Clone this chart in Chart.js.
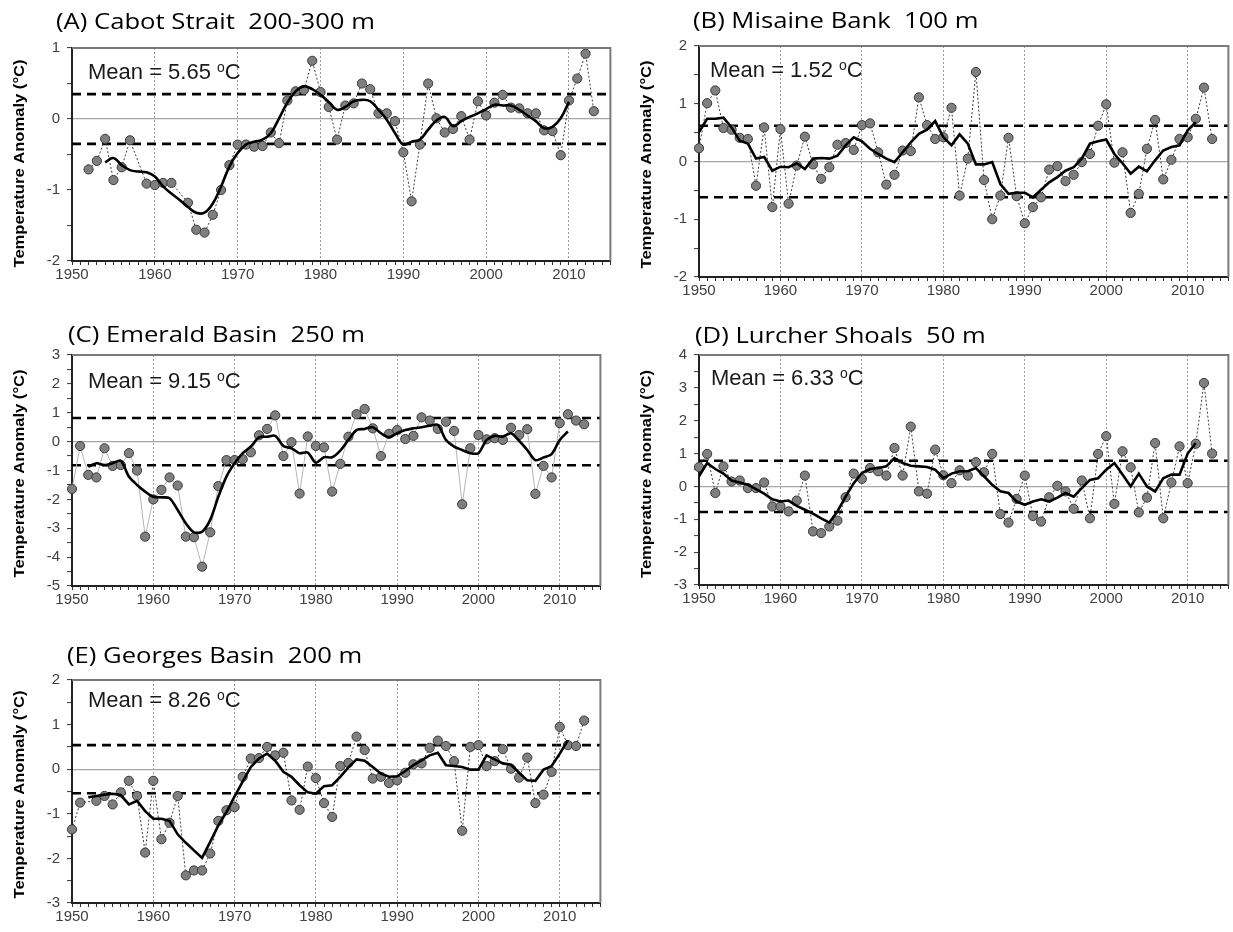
<!DOCTYPE html>
<html>
<head>
<meta charset="utf-8">
<script src="https://cdn.jsdelivr.net/npm/chart.js@4.4.0/dist/chart.umd.min.js"></script>
<style>
  html, body { margin: 0; padding: 0; background: #fff; }
  body { width: 1233px; height: 932px; overflow: hidden; position: relative; }
  canvas { position: absolute; }
</style>
</head>
<body>
<canvas id="chartA"></canvas>
<canvas id="chartB"></canvas>
<canvas id="chartC"></canvas>
<canvas id="chartD"></canvas>
<canvas id="chartE"></canvas>
<script>
// Years on the x axis
const years = [
    1950, 1951, 1952, 1953, 1954, 1955, 1956, 1957, 1958, 1959,
    1960, 1961, 1962, 1963, 1964, 1965, 1966, 1967, 1968, 1969,
    1970, 1971, 1972, 1973, 1974, 1975, 1976, 1977, 1978, 1979,
    1980, 1981, 1982, 1983, 1984, 1985, 1986, 1987, 1988, 1989,
    1990, 1991, 1992, 1993, 1994, 1995, 1996, 1997, 1998, 1999,
    2000, 2001, 2002, 2003, 2004, 2005, 2006, 2007, 2008, 2009,
    2010, 2011, 2012, 2013
];
const xMin = 1950;
const xMax = 2015;

// (A) Cabot Strait 200-300 m
const cabotAnnual = [
    null, null, -0.71, -0.59, -0.28, -0.86, -0.68, -0.30, null, -0.91,
    -0.93, -0.90, -0.90, null, -1.18, -1.56, -1.60, -1.35, -1.00, -0.65,
    -0.36, -0.36, -0.39, -0.38, -0.19, -0.34, 0.26, 0.39, 0.41, 0.82,
    0.38, 0.17, -0.29, 0.19, 0.22, 0.50, 0.42, 0.08, 0.08, -0.03,
    -0.47, -1.16, -0.36, 0.50, 0.01, -0.19, -0.14, 0.04, -0.29, 0.25,
    0.05, 0.23, 0.34, 0.16, 0.15, 0.08, 0.08, -0.16, -0.17, -0.51,
    0.26, 0.57, 0.92, 0.11
];
const cabotMean = [
    null, null, null, null, -0.61, -0.55, -0.65, -0.72, -0.74, -0.75,
    -0.81, -0.95, -1.05, -1.14, -1.24, -1.32, -1.32, -1.19, -0.95, -0.67,
    -0.48, -0.36, -0.32, -0.29, -0.20, 0.01, 0.23, 0.39, 0.46, 0.42,
    0.34, 0.24, 0.13, 0.17, 0.25, 0.27, 0.25, 0.13, -0.01, -0.20,
    -0.36, -0.32, -0.29, -0.15, -0.02, 0.03, -0.10, -0.03, 0.03, 0.08,
    0.14, 0.20, 0.19, 0.19, 0.13, 0.05, -0.03, -0.13, -0.11, 0.01,
    0.24, null, null, null
];

// (B) Misaine Bank 100 m
const misaineAnnual = [
    0.23, 1.01, 1.23, 0.58, 0.55, 0.41, 0.39, -0.42, 0.59, -0.79,
    0.56, -0.73, -0.07, 0.43, -0.05, -0.30, -0.10, 0.29, 0.32, 0.20,
    0.63, 0.66, 0.16, -0.40, -0.23, 0.19, 0.18, 1.11, 0.63, 0.39,
    0.42, 0.93, -0.59, 0.05, 1.55, -0.32, -1.00, -0.59, 0.41, -0.60,
    -1.07, -0.79, -0.62, -0.14, -0.08, -0.34, -0.23, -0.01, 0.13, 0.62,
    0.99, -0.02, 0.16, -0.89, -0.56, 0.22, 0.72, -0.31, 0.03, 0.39,
    0.42, 0.74, 1.28, 0.39
];
const misaineMean = [
    0.51, 0.74, 0.74, 0.76, 0.59, 0.36, 0.31, 0.05, 0.08, -0.16,
    -0.09, -0.10, -0.03, -0.13, 0.05, 0.06, 0.05, 0.10, 0.28, 0.42,
    0.35, 0.22, 0.13, 0.05, -0.01, 0.16, 0.33, 0.48, 0.55, 0.70,
    0.42, 0.28, 0.47, 0.31, -0.05, -0.05, -0.01, -0.39, -0.56, -0.54,
    -0.54, -0.62, -0.49, -0.36, -0.27, -0.16, -0.10, 0.05, 0.31, 0.35,
    0.38, 0.13, -0.03, -0.21, -0.09, -0.17, 0.02, 0.19, 0.25, 0.28,
    0.54, 0.68, null, null
];

// (C) Emerald Basin 250 m
const emeraldAnnual = [
    -1.64, -0.15, -1.15, -1.24, -0.23, -0.84, -0.81, -0.40, -1.00, -3.29,
    -2.00, -1.67, -1.24, -1.52, -3.29, -3.31, -4.33, -3.14, -1.54, -0.64,
    -0.64, -0.61, -0.37, 0.22, 0.44, 0.91, -0.50, -0.02, -1.80, 0.18,
    -0.15, -0.20, -1.73, -0.77, 0.17, 0.95, 1.13, 0.46, -0.50, 0.27,
    0.40, 0.09, 0.20, 0.84, 0.73, 0.44, 0.69, 0.37, -2.17, -0.23,
    0.23, 0.08, 0.12, 0.06, 0.48, 0.23, 0.43, -1.81, -0.84, -1.24,
    0.64, 0.95, 0.73, 0.60
];
const emeraldMean = [
    null, null, -0.87, -0.75, -0.81, -0.75, -0.66, -1.21, -1.50, -1.73,
    -1.91, -1.93, -1.96, -2.37, -2.83, -3.14, -3.12, -2.71, -1.91, -1.21,
    -0.75, -0.40, -0.17, 0.15, 0.17, 0.20, -0.15, -0.23, -0.40, -0.38,
    -0.73, -0.54, -0.54, -0.31, 0.06, 0.40, 0.44, 0.50, 0.29, 0.15,
    0.29, 0.40, 0.46, 0.50, 0.55, 0.58, 0.06, -0.17, -0.29, -0.40,
    -0.40, 0.06, 0.20, 0.17, 0.29, 0.03, -0.29, -0.64, -0.55, -0.43,
    0.06, 0.35, null, null
];

// (D) Lurcher Shoals 50 m
const lurcherAnnual = [
    0.59, 0.99, -0.20, 0.61, 0.15, 0.18, -0.05, -0.05, 0.12, -0.61,
    -0.61, -0.76, -0.43, 0.33, -1.37, -1.42, -1.22, -1.04, -0.33, 0.39,
    0.23, 0.56, 0.46, 0.33, 1.17, 0.33, 1.82, -0.15, -0.22, 1.12,
    0.34, 0.10, 0.49, 0.33, 0.74, 0.43, 0.99, -0.84, -1.10, -0.38,
    0.33, -0.90, -1.07, -0.33, 0.02, -0.15, -0.68, 0.18, -0.97, 0.99,
    1.53, -0.53, 1.07, 0.58, -0.79, -0.34, 1.32, -0.97, 0.12, 1.22,
    0.10, 1.30, 3.15, 1.00
];
const lurcherMean = [
    0.31, 0.71, 0.53, 0.39, 0.18, 0.12, 0.05, -0.08, -0.22, -0.39,
    -0.46, -0.43, -0.59, -0.71, -0.83, -0.97, -1.10, -0.76, -0.31, 0.10,
    0.41, 0.53, 0.56, 0.61, 0.86, 0.71, 0.63, 0.61, 0.59, 0.51,
    0.25, 0.39, 0.46, 0.46, 0.56, 0.31, 0.05, -0.15, -0.20, -0.46,
    -0.56, -0.46, -0.39, -0.46, -0.34, -0.20, -0.31, -0.05, 0.20, 0.25,
    0.51, 0.71, 0.36, 0.00, 0.39, 0.00, -0.15, 0.25, 0.36, 0.36,
    1.00, 1.32, null, null
];

// (E) Georges Basin 200 m
const georgesAnnual = [
    -1.35, -0.75, null, -0.71, -0.60, -0.79, -0.52, -0.26, -0.60, -1.87,
    -0.26, -1.57, -1.20, -0.60, -2.38, -2.27, -2.27, -1.89, -1.16, -0.92,
    -0.85, -0.17, 0.24, 0.25, 0.50, 0.31, 0.37, -0.70, -0.91, 0.06,
    -0.20, -0.76, -1.07, 0.07, 0.14, 0.73, 0.43, -0.21, -0.17, -0.31,
    -0.25, -0.08, 0.11, 0.13, 0.48, 0.64, 0.52, 0.18, -1.38, 0.50,
    0.54, 0.07, 0.18, 0.45, 0.01, -0.19, 0.26, -0.76, -0.57, -0.06,
    0.95, 0.54, 0.52, 1.09
];
const georgesMean = [
    null, null, -0.63, -0.60, -0.57, -0.55, -0.58, -0.79, -0.71, -0.94,
    -1.11, -1.11, -1.16, -1.46, -1.65, -1.82, -1.99, -1.63, -1.26, -0.96,
    -0.61, -0.28, 0.05, 0.24, 0.35, 0.19, -0.06, -0.17, -0.36, -0.52,
    -0.55, -0.38, -0.36, -0.17, 0.04, 0.22, 0.19, 0.05, -0.10, -0.17,
    -0.16, -0.04, 0.09, 0.20, 0.31, 0.37, 0.09, 0.07, 0.05, -0.01,
    -0.01, 0.31, 0.22, 0.13, 0.10, -0.08, -0.25, -0.26, -0.01, 0.07,
    0.35, 0.65, null, null
];

const stationTitles = [
    '(A) Cabot Strait  200-300 m',
    '(B) Misaine Bank  100 m',
    '(C) Emerald Basin  250 m',
    '(D) Lurcher Shoals  50 m',
    '(E) Georges Basin  200 m'
];
const stationMeans = ['5.65', '1.52', '9.15', '6.33', '8.26'];
const stdDevs = [0.35, 0.62, 0.82, 0.78, 0.54];
const yMins = [-2, -2, -5, -3, -3];
const yMaxs = [1, 2, 3, 4, 2];
const yAxisTitle = 'Temperature Anomaly (°C)';
const annualSeries = [cabotAnnual, misaineAnnual, emeraldAnnual, lurcherAnnual, georgesAnnual];
const meanSeries = [cabotMean, misaineMean, emeraldMean, lurcherMean, georgesMean];

// Page placement of each plot area (pixels)
const panelLayout = [
    { id: 'chartA', left: 72,  top: 48,  right: 614,  bottom: 261, titleX: 56,  titleBase: 29,  meanX: 88,  meanBase: 79,  yTitleShift: 9, tension: 0.4, grayLine: false },
    { id: 'chartB', left: 699, top: 46,  right: 1232, bottom: 277, titleX: 693, titleBase: 28,  meanX: 710, meanBase: 77,  yTitleShift: 3, tension: 0,   grayLine: false },
    { id: 'chartC', left: 72,  top: 355, right: 604,  bottom: 586, titleX: 68,  titleBase: 342, meanX: 88,  meanBase: 388, yTitleShift: 3, tension: 0.3, grayLine: true },
    { id: 'chartD', left: 699, top: 355, right: 1232, bottom: 585, titleX: 695, titleBase: 343, meanX: 711, meanBase: 385, yTitleShift: 4, tension: 0,   grayLine: false },
    { id: 'chartE', left: 72,  top: 680, right: 604,  bottom: 903, titleX: 67,  titleBase: 663, meanX: 88,  meanBase: 707, yTitleShift: 3, tension: 0,   grayLine: false }
];

const AXIS_W = 72;
const AXIS_H = 32;
const TOP_PAD = 48;
const baseFont = '"Liberation Sans", Arial, sans-serif';

function toPoints(vals) {
    return years.map((yr, i) => ({ x: yr, y: vals[i] }));
}

// Frame, panel title, axis title and mean label
const panelDecor = {
    id: 'panelDecor',
    afterDraw(chart, args, opts) {
        const { ctx, chartArea: a } = chart;
        ctx.save();
        ctx.strokeStyle = '#7a7a7a';
        ctx.lineWidth = 2;
        ctx.beginPath();
        ctx.moveTo(a.left, a.top);
        ctx.lineTo(a.right, a.top);
        ctx.lineTo(a.right, a.bottom);
        ctx.stroke();

        // panel title, a little wider than Open Sans
        ctx.textAlign = 'left';
        ctx.textBaseline = 'alphabetic';
        ctx.fillStyle = '#000';
        ctx.font = '22.5px "Open Sans", sans-serif';
        ctx.save();
        ctx.translate(opts.titleX, opts.titleY);
        ctx.scale(1.14, 1);
        ctx.fillText(opts.title, 0, 0);
        ctx.restore();

        // y axis title
        ctx.save();
        ctx.font = 'bold 14px ' + baseFont;
        const tw = ctx.measureText(yAxisTitle).width;
        ctx.translate(a.left - 52, (a.top + a.bottom) / 2 + opts.yTitleShift);
        ctx.rotate(-Math.PI / 2);
        ctx.scale(208 / tw, 1);
        ctx.textAlign = 'center';
        ctx.textBaseline = 'middle';
        ctx.fillText(yAxisTitle, 0, 0);
        ctx.restore();

        // mean label with raised "o"
        ctx.fillStyle = '#1a1a1a';
        const lead = 'Mean = ' + opts.mean + ' ';
        ctx.font = '22px ' + baseFont;
        ctx.fillText(lead, opts.meanX, opts.meanY);
        let x = opts.meanX + ctx.measureText(lead).width;
        ctx.font = '14px ' + baseFont;
        ctx.fillText('o', x, opts.meanY - 7);
        x += ctx.measureText('o').width;
        ctx.font = '22px ' + baseFont;
        ctx.fillText('C', x, opts.meanY);
        ctx.restore();
    }
};

function buildPanel(i) {
    const lay = panelLayout[i];
    const cx = lay.left - AXIS_W;
    const cy = lay.top - TOP_PAD;
    const width = lay.right - cx + 2;
    const height = lay.bottom - cy + AXIS_H;
    const canvas = document.getElementById(lay.id);
    canvas.width = width;
    canvas.height = height;
    canvas.style.left = cx + 'px';
    canvas.style.top = cy + 'px';
    canvas.style.width = width + 'px';
    canvas.style.height = height + 'px';

    const sd = stdDevs[i];
    const tickFont = { family: baseFont, size: 15 };

    return new Chart(canvas.getContext('2d'), {
        type: 'line',
        data: {
            datasets: [
                {
                    label: '5-year running mean',
                    data: toPoints(meanSeries[i]),
                    borderColor: '#000',
                    borderWidth: 2.6,
                    pointRadius: 0,
                    tension: lay.tension,
                    order: 0
                },
                {
                    label: 'Annual anomaly',
                    data: toPoints(annualSeries[i]),
                    borderColor: lay.grayLine ? '#b5b5b5' : '#3c3c3c',
                    borderDash: lay.grayLine ? [] : [2, 2],
                    borderWidth: 1,
                    pointRadius: 4.6,
                    pointBackgroundColor: '#7f7f7f',
                    pointBorderColor: '#3a3a3a',
                    pointBorderWidth: 1,
                    spanGaps: true,
                    clip: false,
                    order: 1
                },
                {
                    label: '+1 SD',
                    data: [{ x: xMin, y: sd }, { x: xMax, y: sd }],
                    borderColor: '#000',
                    borderWidth: 2.6,
                    borderDash: [9, 6],
                    pointRadius: 0,
                    order: 2
                },
                {
                    label: '-1 SD',
                    data: [{ x: xMin, y: -sd }, { x: xMax, y: -sd }],
                    borderColor: '#000',
                    borderWidth: 2.6,
                    borderDash: [9, 6],
                    pointRadius: 0,
                    order: 2
                }
            ]
        },
        options: {
            responsive: false,
            devicePixelRatio: 1,
            animation: false,
            layout: { padding: { top: TOP_PAD, right: 2, left: 0, bottom: 0 } },
            plugins: {
                legend: { display: false },
                tooltip: { enabled: false },
                panelDecor: {
                    title: stationTitles[i],
                    mean: stationMeans[i],
                    titleX: lay.titleX - cx,
                    titleY: lay.titleBase - cy,
                    meanX: lay.meanX - cx,
                    meanY: lay.meanBase - cy,
                    yTitleShift: lay.yTitleShift
                }
            },
            scales: {
                x: {
                    type: 'linear',
                    min: xMin,
                    max: xMax,
                    afterFit: s => { s.height = AXIS_H; },
                    ticks: {
                        stepSize: 1,
                        autoSkip: false,
                        maxTicksLimit: 100,
                        maxRotation: 0,
                        padding: 1,
                        color: '#404040',
                        font: tickFont,
                        callback: v => (v % 10 === 0 && v < xMax) ? String(v) : ''
                    },
                    grid: {
                        color: c => (c.tick && c.tick.value % 10 === 0 && c.tick.value > xMin && c.tick.value < xMax) ? '#9a9a9a' : 'rgba(0,0,0,0)',
                        lineWidth: 1,
                        tickColor: '#333',
                        tickLength: 4,
                        tickWidth: 1
                    },
                    border: { color: '#222', width: 2, dash: [2, 2] }
                },
                y: {
                    min: yMins[i],
                    max: yMaxs[i],
                    afterFit: s => { s.width = AXIS_W; },
                    ticks: {
                        stepSize: 0.5,
                        autoSkip: false,
                        padding: 7,
                        color: '#404040',
                        font: tickFont,
                        callback: v => Number.isInteger(v) ? String(v) : ''
                    },
                    grid: {
                        color: c => (c.tick && c.tick.value === 0) ? '#a6a6a6' : 'rgba(0,0,0,0)',
                        lineWidth: 1.2,
                        tickColor: '#333',
                        tickLength: 5,
                        tickWidth: 1
                    },
                    border: { color: '#222', width: 2, dash: [] }
                }
            }
        },
        plugins: [panelDecor]
    });
}

panelLayout.forEach((lay, i) => buildPanel(i));
</script>
</body>
</html>
